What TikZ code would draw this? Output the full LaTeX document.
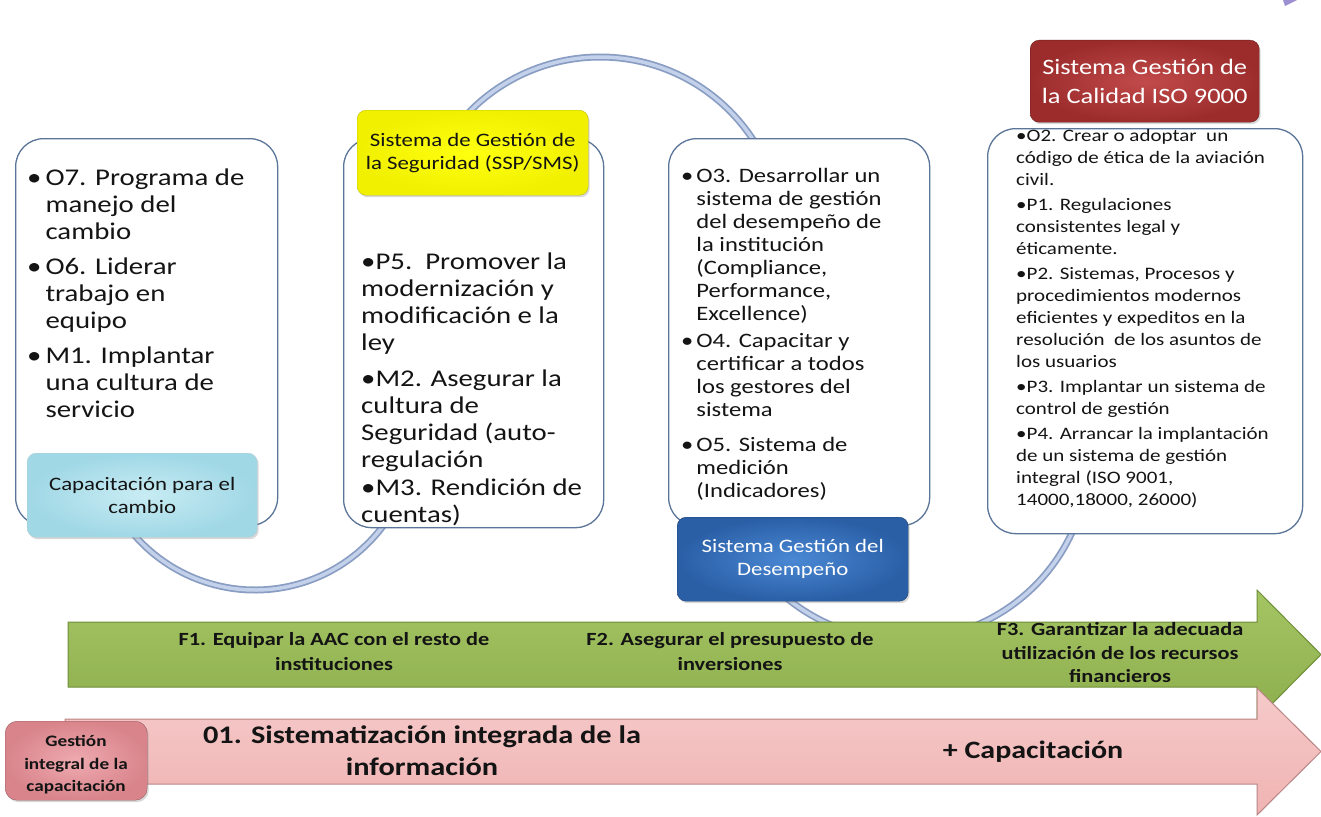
\documentclass[tikz,border=0pt]{standalone}
\usepackage{fontspec}
\setmainfont{Carlito}[FakeStretch=1.2]
\usetikzlibrary{shadows}
\definecolor{boxline}{HTML}{5A7597}
\definecolor{wavedark}{HTML}{8A9EC4}
\definecolor{wavelight}{HTML}{C3D1EA}
\definecolor{txt}{HTML}{141414}
\definecolor{cyanO}{HTML}{A0D8E6}
\definecolor{cyanI}{HTML}{C8ECF3}
\definecolor{yelO}{HTML}{F0F000}
\definecolor{yelI}{HTML}{FFFF10}
\definecolor{bluO}{HTML}{2A5FA6}
\definecolor{bluI}{HTML}{4A88D4}
\definecolor{redO}{HTML}{9C2C2C}
\definecolor{redI}{HTML}{C24A4A}
\definecolor{pnkO}{HTML}{D9848B}
\definecolor{pnkI}{HTML}{EEAAB0}
\definecolor{grnT}{HTML}{A5C564}
\definecolor{grnB}{HTML}{8DAE4C}
\definecolor{grnL}{HTML}{6F8F3A}
\definecolor{rosT}{HTML}{F6CACA}
\definecolor{rosB}{HTML}{F0B3B3}
\definecolor{rosL}{HTML}{B98585}
\definecolor{tri}{HTML}{9C90D2}
\begin{document}
\begin{tikzpicture}[x=1pt,y=-1pt,
  wbox/.style={draw=boxline, line width=1.3pt, fill=white, rounded corners=28pt, anchor=north west, inner sep=0pt},
  lbl/.style={rounded corners=9pt, align=center, inner sep=0pt, anchor=north west, text=txt,
     drop shadow={opacity=0.3,shadow xshift=1.5pt,shadow yshift=-2pt}},
  wave/.style={draw=wavelight, line width=3.5pt, preaction={draw=wavedark, line width=7pt}},
  txtnode/.style={anchor=north west, inner sep=0pt, text=txt, align=left},
  arrtxt/.style={align=center, inner sep=0pt, text=txt, font=\bfseries\fontsize{18.6}{25}\selectfont}
]
\useasboundingbox (0,0) rectangle (1321,816);
\fill[white] (0,0) rectangle (1321,816);
\fill[tri] (1283,0) -- (1297,0) -- (1285,6) -- cycle;

% wave arcs
\coordinate (c1) at (255,430);
\coordinate (c2) at (600,240);
\coordinate (c3) at (904,455);
\draw[wave] (c1) ++(140:160) arc[start angle=140,end angle=30,radius=160];
\draw[wave] (c2) ++(-138:183) arc[start angle=-138,end angle=-30,radius=183];
\draw[wave] (c3) ++(132:185) arc[start angle=132,end angle=18,radius=185];

% white boxes
\node[wbox, minimum width=262, minimum height=387] (b1) at (15,138) {};
\node[wbox, minimum width=260, minimum height=389] (b2) at (343,138) {};
\node[wbox, minimum width=261, minimum height=387] (b3) at (668,138) {};
\node[wbox, minimum width=315, minimum height=405] (b4) at (987,128) {};

% box texts
\node[txtnode, font=\fontsize{24}{27}\selectfont] (t1) at (27,166) {%
\begin{tabular}{@{}l@{\hspace{4pt}}l@{}}
\textbullet & O7. Programa de\\
 & manejo del\\
 & cambio\\[8pt]
\textbullet & O6. Liderar\\
 & trabajo en\\
 & equipo\\[8pt]
\textbullet & M1. Implantar\\
 & una cultura de\\
 & servicio
\end{tabular}};

\node[txtnode, font=\fontsize{24}{27}\selectfont] (t2) at (361,250) {%
\begin{tabular}{@{}l@{}}
\textbullet P5.\ \ Promover la\\
modernización y\\
modificación e la\\
ley\\[9pt]
\textbullet M2. Asegurar la\\
cultura de\\
Seguridad (auto-\\
regulación\\[1pt]
\textbullet M3. Rendición de\\
cuentas)
\end{tabular}};

\node[txtnode, font=\fontsize{20.5}{23}\selectfont] (t3) at (681,166) {%
\begin{tabular}{@{}l@{\hspace{3pt}}l@{}}
\textbullet & O3. Desarrollar un\\
 & sistema de gestión\\
 & del desempeño de\\
 & la institución\\
 & (Compliance,\\
 & Performance,\\
 & Excellence)\\[4pt]
\textbullet & O4. Capacitar y\\
 & certificar a todos\\
 & los gestores del\\
 & sistema\\[12pt]
\textbullet & O5. Sistema de\\
 & medición\\
 & (Indicadores)
\end{tabular}};

\node[txtnode, font=\fontsize{17.5}{22}\selectfont] (t4) at (1016,126) {%
\begin{tabular}{@{}l@{}}
\textbullet O2. Crear o adoptar\ \ un\\
código de ética de la aviación\\
civil.\\[3pt]
\textbullet P1. Regulaciones\\
consistentes legal y\\
éticamente.\\[3pt]
\textbullet P2. Sistemas, Procesos y\\
procedimientos modernos\\
eficientes y expeditos en la\\
resolución\ \ de los asuntos de\\
los usuarios\\[3pt]
\textbullet P3. Implantar un sistema de\\
control de gestión\\[3pt]
\textbullet P4. Arrancar la implantación\\
de un sistema de gestión\\
integral (ISO 9001,\\
14000,18000, 26000)
\end{tabular}};

% labels
\node[lbl, draw=cyanO!80!black!60, inner color=cyanI, outer color=cyanO, minimum width=230, minimum height=84,
  font=\fontsize{19}{23}\selectfont] (l1) at (27,453) {Capacitación para el\\cambio};
\node[lbl, draw=yelO!80!black, inner color=yelI, outer color=yelO, minimum width=231, minimum height=85,
  font=\fontsize{19}{23}\selectfont] (l2) at (357,110) {Sistema de Gestión de\\la Seguridad (SSP/SMS)};
\node[lbl, draw=bluO!70!black, inner color=bluI, outer color=bluO, minimum width=231, minimum height=84, text=white,
  font=\fontsize{19}{23}\selectfont] (l3) at (677,517) {Sistema Gestión del\\Desempeño};
\node[lbl, draw=redO!70!black, inner color=redI, outer color=redO, minimum width=229, minimum height=82, text=white,
  font=\fontsize{22}{29}\selectfont] (l4) at (1030,40) {Sistema Gestión de\\la Calidad ISO 9000};

% green arrow
\path[draw=grnL, line width=1pt, top color=grnT, bottom color=grnB]
  (68,622) -- (1257,622) -- (1257,590) -- (1321,654.5) -- (1257,719) -- (1257,687) -- (68,687) -- cycle;
\node[arrtxt] (f1) at (334,652) {F1. Equipar la AAC con el resto de\\instituciones};
\node[arrtxt] (f2) at (730,652) {F2. Asegurar el presupuesto de\\inversiones};
\node[arrtxt, font=\bfseries\fontsize{18.6}{23.5}\selectfont] (f3) at (1120,653) {F3. Garantizar la adecuada\\utilización de los recursos\\financieros};

% pink arrow
\path[draw=rosL, line width=1pt, top color=rosT, bottom color=rosB]
  (65,719) -- (1257,719) -- (1257,688) -- (1321,751.5) -- (1257,815) -- (1257,784) -- (65,784) -- cycle;
\node[arrtxt, font=\bfseries\fontsize{25.3}{32}\selectfont] (o1) at (422,751) {01. Sistematización integrada de la\\información};
\node[arrtxt, font=\bfseries\fontsize{25}{32}\selectfont] (cap) at (1033,752) {+ Capacitación};

\node[lbl, draw=pnkO!70!black, inner color=pnkI, outer color=pnkO, minimum width=142, minimum height=79, rounded corners=12pt] (gi) at (5,721) {};
\node[align=center, inner sep=0pt, text=txt, font=\bfseries\fontsize{16}{22.5}\selectfont] (gitxt) at (76,765) {Gestión\\integral de la\\capacitación};
\end{tikzpicture}
\end{document}
